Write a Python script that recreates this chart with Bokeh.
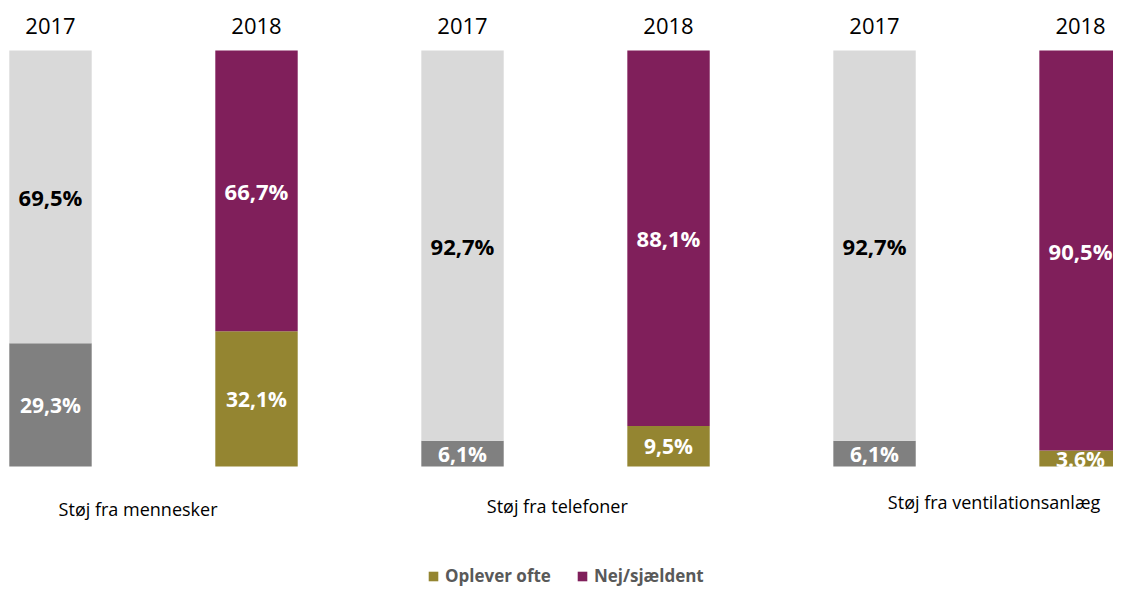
from bokeh.plotting import figure
from bokeh.models import ColumnDataSource, Range1d, Legend, LegendItem
from bokeh.core.properties import value
from bokeh.embed import file_html
from bokeh.resources import INLINE

# ---- data ----
categories = ["Støj fra mennesker", "Støj fra telefoner", "Støj fra ventilationsanlæg"]
years = ["2017", "2018"]
oplever_2017 = [29.3, 6.1, 6.1]
nej_2017 = [69.5, 92.7, 92.7]
oplever_2018 = [32.1, 9.5, 3.6]
nej_2018 = [66.7, 88.1, 90.5]
oplever_2017_labels = ["29,3%", "6,1%", "6,1%"]
nej_2017_labels = ["69,5%", "92,7%", "92,7%"]
oplever_2018_labels = ["32,1%", "9,5%", "3.6%"]
nej_2018_labels = ["66,7%", "88,1%", "90,5%"]
series = ["Oplever ofte", "Nej/sjældent"]

# ---- style ----
C_GRAY_DARK = "#808080"
C_GRAY_LIGHT = "#D9D9D9"
C_OLIVE = "#948531"
C_PURPLE = "#801F5B"
FONT = "Open Sans"
BAR_W = 0.4


def stack(op, nej, year_idx):
    xs = [2 * g + year_idx for g in range(len(op))]
    tot = [a + b for a, b in zip(op, nej)]
    bot = [a / t * 100 for a, t in zip(op, tot)]
    return xs, bot


p = figure(width=1113, height=593, output_backend="svg", toolbar_location=None,
           x_range=Range1d(-0.2427, 5.160), y_range=Range1d(-30.53, 112.02),
           min_border=0, outline_line_color=None)
p.axis.visible = False
p.grid.visible = False
p.background_fill_color = "white"
p.border_fill_color = "white"

renderers = {}
for yi, (op, nej, op_lab, nej_lab, c_bot, c_top, top_txt_color) in enumerate([
        (oplever_2017, nej_2017, oplever_2017_labels, nej_2017_labels, C_GRAY_DARK, C_GRAY_LIGHT, "black"),
        (oplever_2018, nej_2018, oplever_2018_labels, nej_2018_labels, C_OLIVE, C_PURPLE, "white")]):
    xs, bot = stack(op, nej, yi)
    src = ColumnDataSource(dict(x=xs, bot=bot, top=[100] * len(xs), zero=[0] * len(xs),
                                mid_bot=[b / 2 for b in bot],
                                mid_top=[(b + 100) / 2 for b in bot],
                                lab_bot=op_lab, lab_top=nej_lab,
                                year=[years[yi]] * len(xs),
                                year_y=[106.0] * len(xs)))
    rb = p.vbar(x="x", width=BAR_W, bottom="zero", top="bot", source=src,
                fill_color=c_bot, line_color=None)
    rt = p.vbar(x="x", width=BAR_W, bottom="bot", top="top", source=src,
                fill_color=c_top, line_color=None)
    renderers[yi] = (rb, rt)
    p.text(x="x", y="mid_bot", text="lab_bot", source=src, text_color="white",
           text_font=value(FONT), text_font_size="21px", text_font_style="bold",
           text_align="center", text_baseline="middle")
    p.text(x="x", y="mid_top", text="lab_top", source=src, text_color=top_txt_color,
           text_font=value(FONT), text_font_size="22px", text_font_style="bold",
           text_align="center", text_baseline="middle")
    p.text(x="x", y="year_y", text="year", source=src, text_color="black",
           text_font=value(FONT), text_font_size="22px",
           text_align="center", text_baseline="middle")

# group labels (layout offsets from group centers)
label_dx = [-0.075, -0.04, 0.08]
label_y = [-10.1, -9.6, -8.65]
gsrc = ColumnDataSource(dict(x=[2 * g + 0.5 + label_dx[g] for g in range(len(categories))],
                             y=label_y, t=categories))
p.text(x="x", y="y", text="t", source=gsrc, text_color="black",
       text_font=value(FONT), text_font_size="18px",
       text_align="center", text_baseline="middle")

legend = Legend(items=[LegendItem(label=series[0], renderers=[renderers[1][0]]),
                       LegendItem(label=series[1], renderers=[renderers[1][1]])],
                orientation="horizontal", location=(427, 6),
                glyph_width=12, glyph_height=12, label_height=12,
                label_standoff=6, spacing=25, padding=0, margin=0,
                border_line_color=None, background_fill_alpha=0,
                label_text_font=FONT, label_text_font_size="17px",
                label_text_font_style="bold", label_text_color="#595959")
p.add_layout(legend)

open("out.html", "w").write(file_html(p, INLINE))
